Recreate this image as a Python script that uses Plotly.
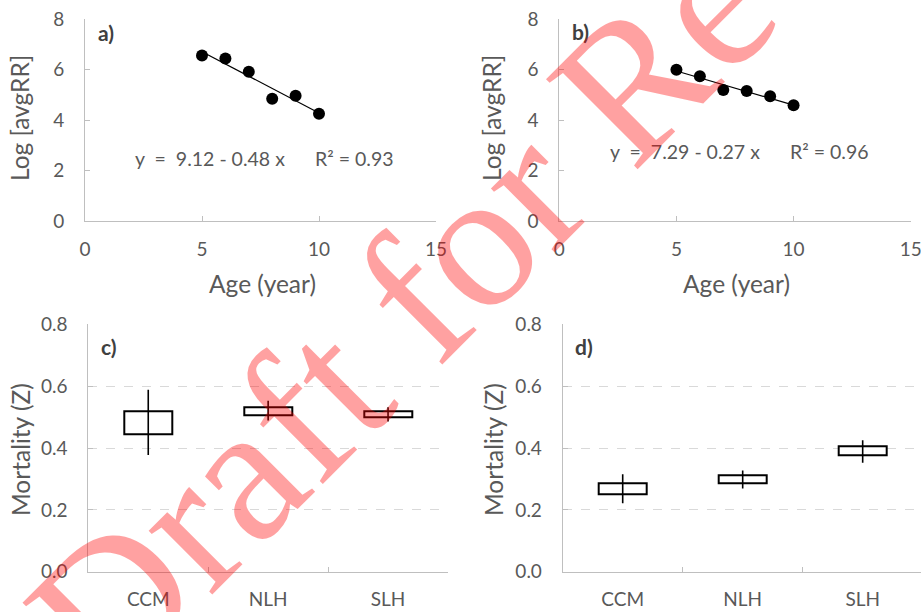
import numpy as np
import plotly.graph_objects as go

# ---------------- data ----------------
ages = [5, 6, 7, 8, 9, 10]
log_rr_a = [6.55, 6.44, 5.91, 4.84, 4.96, 4.25]
log_rr_b = [5.99, 5.73, 5.19, 5.15, 4.94, 4.58]
eq_a = "y  =  9.12 - 0.48 x"
r2_a = "R² = 0.93"
eq_b = "y  =  7.29 - 0.27 x"
r2_b = "R² = 0.96"

sites = ["CCM", "NLH", "SLH"]
c_box_low = [0.445, 0.506, 0.500]
c_box_high = [0.520, 0.532, 0.518]
c_min = [0.377, 0.489, 0.486]
c_max = [0.588, 0.553, 0.532]
d_box_low = [0.250, 0.286, 0.375]
d_box_high = [0.287, 0.311, 0.404]
d_min = [0.221, 0.269, 0.352]
d_max = [0.315, 0.327, 0.425]

x_ticks_ab = [0, 5, 10, 15]
y_ticks_ab = [0, 2, 4, 6, 8]
y_ticks_cd = [0.0, 0.2, 0.4, 0.6, 0.8]

# ---------------- styles ----------------
FONT = "Lato"
GREY = "#595959"
AXIS = "#bfbfbf"
W, H = 921, 612


def px(x):
    return x / W


def py(y):
    return 1 - y / H


fig = go.Figure()


def scatter_panel(xa, ya, yvals):
    fig.add_trace(go.Scatter(x=ages, y=yvals, mode="markers",
                             marker=dict(color="black", size=12),
                             xaxis=xa, yaxis=ya, hoverinfo="skip"))
    slope, icpt = np.polyfit(ages, yvals, 1)
    xs = [min(ages), max(ages)]
    fig.add_trace(go.Scatter(x=xs, y=[icpt + slope * v for v in xs], mode="lines",
                             line=dict(color="black", width=1.2),
                             xaxis=xa, yaxis=ya, hoverinfo="skip"))


def box_panel(xa, ya, low, high, mn, mx):
    fig.add_trace(go.Bar(x=sites, y=[h - l for h, l in zip(high, low)], base=low,
                         width=0.4, marker=dict(color="white",
                                                line=dict(color="black", width=2)),
                         xaxis=xa, yaxis=ya, hoverinfo="skip"))
    lx, ly = [], []
    for s, a, b in zip(sites, mn, mx):
        lx += [s, s, None]
        ly += [a, b, None]
    fig.add_trace(go.Scatter(x=lx, y=ly, mode="lines",
                             line=dict(color="black", width=1.6),
                             xaxis=xa, yaxis=ya, hoverinfo="skip"))


scatter_panel("x", "y", log_rr_a)
scatter_panel("x2", "y2", log_rr_b)
box_panel("x3", "y3", c_box_low, c_box_high, c_min, c_max)
box_panel("x4", "y4", d_box_low, d_box_high, d_min, d_max)

common = dict(showline=True, linecolor=AXIS, linewidth=1, zeroline=False,
              ticks="inside", ticklen=5, tickcolor=AXIS, automargin=False,
              ticklabeloverflow="allow",
              tickfont=dict(family=FONT, size=19, color=GREY))

top_dom = [py(221), py(19)]
bot_dom = [py(571.7), py(324.3)]

fig.update_layout(
    width=W, height=H, margin=dict(l=0, r=0, t=0, b=0, autoexpand=False),
    paper_bgcolor="white", plot_bgcolor="white", showlegend=False,
    bargap=0,
    xaxis=dict(domain=[px(85), px(436)], range=[0, 15], tickvals=x_ticks_ab,
               showgrid=False, anchor="y", ticklabelstandoff=11, **common),
    yaxis=dict(domain=top_dom, range=[0, 8], tickvals=y_ticks_ab,
               showgrid=False, anchor="x", ticklabelstandoff=16, **common),
    xaxis2=dict(domain=[px(559.3), px(910.7)], range=[0, 15], tickvals=x_ticks_ab,
                showgrid=False, anchor="y2", ticklabelstandoff=11, **common),
    yaxis2=dict(domain=top_dom, range=[0, 8], tickvals=y_ticks_ab,
                showgrid=False, anchor="x2", ticklabelstandoff=16, **common),
    xaxis3=dict(domain=[px(88.3), px(448)], type="category", categoryarray=sites,
                range=[-0.5, 2.5], tickson="boundaries", showgrid=False,
                anchor="y3", ticklabelstandoff=10, **common),
    yaxis3=dict(domain=bot_dom, range=[0, 0.8], tickvals=y_ticks_cd, tickformat=".1f",
                showgrid=True, gridcolor="#d9d9d9", griddash="dash", gridwidth=1,
                anchor="x3", ticklabelstandoff=16, **common),
    xaxis4=dict(domain=[px(562.7), 1.0], type="category", categoryarray=sites,
                range=[-0.5, 2.486], tickson="boundaries", showgrid=False,
                anchor="y4", ticklabelstandoff=10, **common),
    yaxis4=dict(domain=bot_dom, range=[0, 0.8], tickvals=y_ticks_cd, tickformat=".1f",
                showgrid=True, gridcolor="#d9d9d9", griddash="dash", gridwidth=1,
                anchor="x4", ticklabelstandoff=16, **common),
)

ann = []
tfont = dict(family=FONT, size=24.5, color=GREY)
efont = dict(family=FONT, size=19.5, color=GREY)
lfont = dict(family=FONT, size=21, color="#404040")

# axis titles
ann += [
    dict(text="Log [avgRR]", x=px(20), y=py(118), textangle=-90, font=tfont),
    dict(text="Log [avgRR]", x=px(492), y=py(118), textangle=-90, font=tfont),
    dict(text="Age (year)", x=px(262), y=py(283), font=tfont),
    dict(text="Age (year)", x=px(736), y=py(283), font=tfont),
    dict(text="Mortality (Z)", x=px(20), y=py(450), textangle=-90, font=tfont),
    dict(text="Mortality (Z)", x=px(493), y=py(450), textangle=-90, font=tfont),
]
for a in ann:
    a.update(xref="paper", yref="paper", showarrow=False,
             xanchor="center", yanchor="middle")

# equations
eqs = [
    dict(text=eq_a, xref="x", yref="y", x=2.05, y=2.46),
    dict(text=r2_a, xref="x", yref="y", x=9.74, y=2.46),
    dict(text=eq_b, xref="x2", yref="y2", x=2.08, y=2.74),
    dict(text=r2_b, xref="x2", yref="y2", x=9.76, y=2.74),
]
for e in eqs:
    e.update(showarrow=False, xanchor="left", yanchor="middle", font=efont)
ann += eqs

# panel labels
labs = [
    dict(text="<b>a)</b>", xref="x", yref="y", x=0.45, y=7.45),
    dict(text="<b>b)</b>", xref="x2", yref="y2", x=0.45, y=7.5),
    dict(text="<b>c)</b>", xref="x3", yref="y3", x=-0.41, y=0.727),
    dict(text="<b>d)</b>", xref="x4", yref="y4", x=-0.414, y=0.727),
]
for l in labs:
    l.update(showarrow=False, xanchor="left", yanchor="middle", font=lfont)
ann += labs

# watermark
ann.append(dict(text="Draft for Review", xref="paper", yref="paper",
                x=px(535), y=py(177), xanchor="center", yanchor="middle",
                textangle=-45, showarrow=False,
                font=dict(family="Liberation Serif", size=196,
                          color="rgba(255,0,0,0.37)")))

fig.update_layout(annotations=ann)
fig.write_html("out.html", config={"displayModeBar": False},
               post_script="document.body.style.margin='0';"
                           "document.body.style.overflow='hidden';")
